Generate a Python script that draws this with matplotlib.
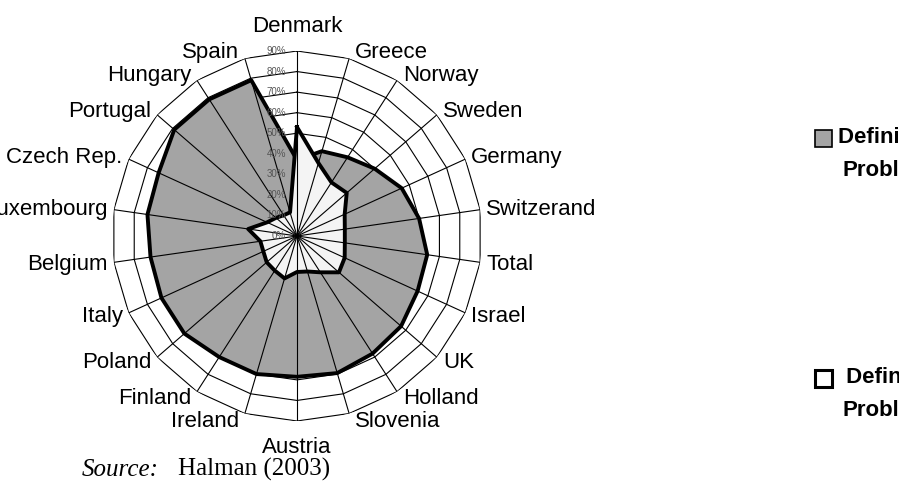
import numpy as np
import matplotlib
matplotlib.use('Agg')
import matplotlib.pyplot as plt
from matplotlib.patches import Rectangle

plt.rcParams['font.family'] = ['Liberation Sans', 'DejaVu Sans']

countries = ['Denmark', 'Greece', 'Norway', 'Sweden', 'Germany', 'Switzerand',
             'Total', 'Israel', 'UK', 'Holland', 'Slovenia', 'Austria',
             'Ireland', 'Finland', 'Poland', 'Italy', 'Belgium', 'Luxembourg',
             'Czech Rep.', 'Portugal', 'Hungary', 'Spain']
# share saying "definitely a problem" (grey) and "definitely not a problem" (white)
definitely_problem = [37, 43, 45.5, 50, 56, 60, 64, 64.5, 67, 68, 69.5, 68.5,
                      70, 70, 72.5, 72.5, 72, 73.5, 74, 79, 79, 79]
definitely_not = [53, 37, 31, 32, 25.5, 23.5, 23.5, 25.5, 27, 21, 18, 17.5,
                  21.5, 20, 19.5, 18, 18, 24, 16, 13.5, 12, 12]
ring_levels = [0, 10, 20, 30, 40, 50, 60, 70, 80, 90]
ring_labels = ['0%', '10%', '20%', '30%', '40%', '50%', '60%', '70%', '80%', '90%']
legend_lines = [['Definitely a', 'Problem'], [' Definitely not a', 'Problem']]

W, H = 899, 493
fig = plt.figure(figsize=(W / 100, H / 100), dpi=100)
cx, cy, R = 297, 236, 185
ax = fig.add_axes([(cx - R) / W, (H - cy - R) / H, 2 * R / W, 2 * R / H],
                  projection='polar')
ax.set_theta_zero_location('N')
ax.set_theta_direction(-1)
ax.set_ylim(0, 90)
ax.set_axis_off()

n = len(countries)
theta = np.linspace(0, 2 * np.pi, n, endpoint=False)
closed = np.append(theta, theta[0])

# polygon rings
for lv in ring_levels[1:]:
    ax.plot(closed, [lv] * (n + 1), color='black', lw=0.8, zorder=1)

gp = np.append(definitely_problem, definitely_problem[0])
wp = np.append(definitely_not, definitely_not[0])
ax.fill(closed, gp, facecolor='#a4a4a4', edgecolor='none', zorder=2)
ax.plot(closed, gp, color='black', lw=2.8, zorder=2.5)
ax.fill(closed, wp, facecolor='#f4f4f4', edgecolor='none', zorder=3)

# spokes
for t in theta:
    ax.plot([t, t], [0, 90], color='black', lw=0.8, zorder=3.5)
ax.plot(closed, wp, color='black', lw=2.8, zorder=4)

for lv, lab in zip(ring_levels, ring_labels):
    ax.annotate(lab, xy=(0, lv), xytext=(-11, 0), textcoords='offset pixels',
                ha='right', va='center', fontsize=7, color='#555555', zorder=5)

for t, name in zip(theta, countries):
    s, c = np.sin(t), np.cos(t)
    if abs(s) < 0.05:
        if c > 0:
            ax.annotate(name, xy=(t, 90), xytext=(0, 19), textcoords='offset pixels',
                        ha='center', va='baseline', fontsize=16)
        else:
            ax.annotate(name, xy=(t, 90), xytext=(0, -16), textcoords='offset pixels',
                        ha='center', va='top', fontsize=16)
    else:
        ax.annotate(name, xy=(t, 90), xytext=(6 * np.sign(s), 7 * c - 1),
                    textcoords='offset pixels',
                    ha='left' if s > 0 else 'right', va='center', fontsize=16)

# legend (cut by the right edge, as in the source)
fig.add_artist(Rectangle((815 / W, 1 - 147 / H), 17 / W, 17 / H,
                         transform=fig.transFigure, facecolor='#a4a4a4',
                         edgecolor='black', lw=1.2))
fig.text(838 / W, 1 - 138 / H, legend_lines[0][0], fontsize=16, fontweight='bold',
         va='center', ha='left')
fig.text(843 / W, 1 - 170 / H, legend_lines[0][1], fontsize=16, fontweight='bold',
         va='center', ha='left')
fig.add_artist(Rectangle((815 / W, 1 - 387 / H), 17 / W, 17 / H,
                         transform=fig.transFigure, facecolor='white',
                         edgecolor='black', lw=2.2))
fig.text(840 / W, 1 - 378 / H, legend_lines[1][0], fontsize=16, fontweight='bold',
         va='center', ha='left')
fig.text(843 / W, 1 - 410 / H, legend_lines[1][1], fontsize=16, fontweight='bold',
         va='center', ha='left')

fig.text(82 / W, 1 - 476 / H, 'Source:', fontsize=18, style='italic',
         family='Liberation Serif', va='baseline')
fig.text(178 / W, 1 - 476 / H, 'Halman (2003)', fontsize=18,
         family='Liberation Serif', va='baseline')

fig.savefig('out.png', dpi=100)
